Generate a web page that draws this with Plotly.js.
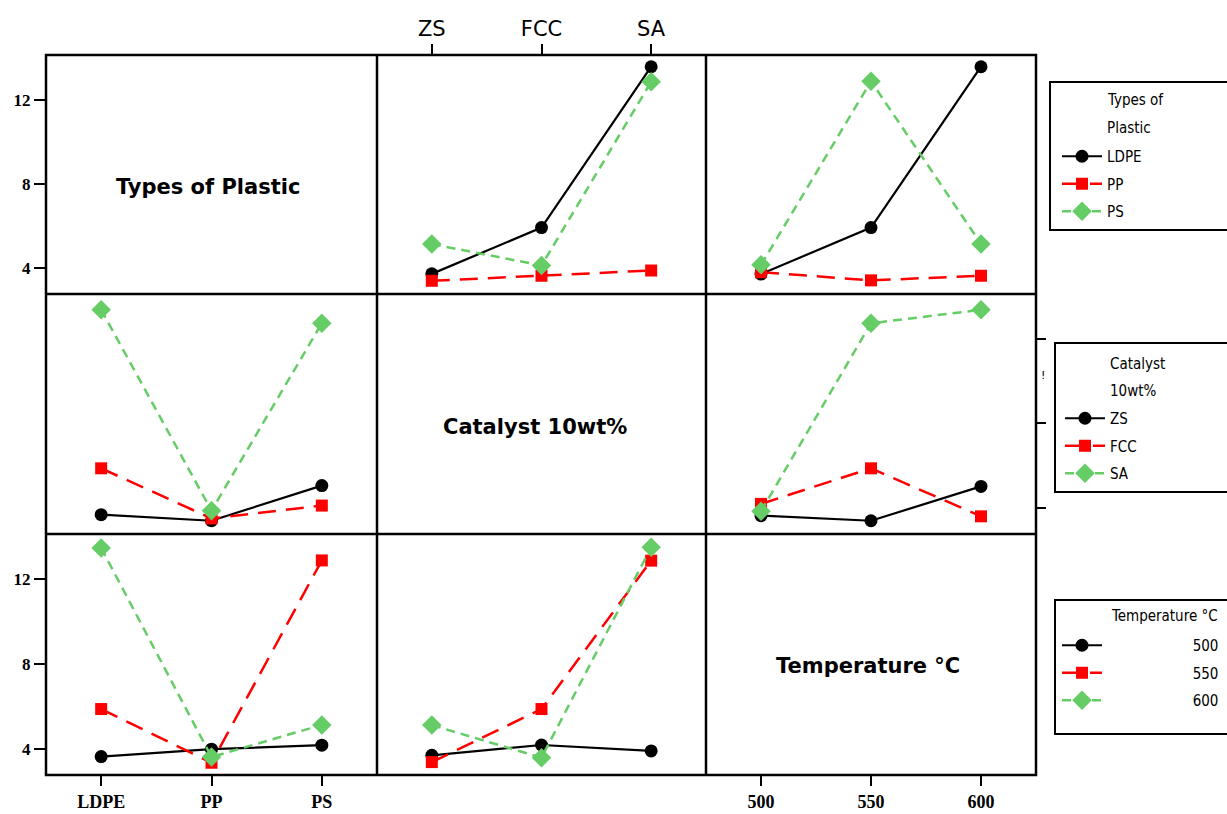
<!DOCTYPE html>
<html><head><meta charset="utf-8">
<script src="https://cdn.plot.ly/plotly-3.0.1.min.js"></script>
<style>html,body{margin:0;padding:0;background:#fff}</style>
</head><body><div id="chart" style="width:1227px;height:814px"></div>
<script>
// ---- categories / tick labels ----
const plastics = ['LDPE', 'PP', 'PS'];
const catalysts = ['ZS', 'FCC', 'SA'];
const temps = ['500', '550', '600'];
const yTicks = [4, 8, 12];

// ---- Row 1: series = Types of Plastic ----
const ldpeByCatalyst = [3.71, 5.92, 13.59];
const ppByCatalyst   = [3.38, 3.62, 3.87];
const psByCatalyst   = [5.13, 4.11, 12.87];
const ldpeByTemp = [3.70, 5.92, 13.59];
const ppByTemp   = [3.79, 3.40, 3.62];
const psByTemp   = [4.14, 12.90, 5.14];

// ---- Row 2: series = Catalyst 10wt% ----
const zsByPlastic  = [3.67, 3.38, 5.05];
const fccByPlastic = [5.87, 3.49, 4.10];
const saByPlastic  = [13.40, 3.86, 12.76];
const zsByTemp  = [3.62, 3.38, 5.01];
const fccByTemp = [4.18, 5.87, 3.59];
const saByTemp  = [3.83, 12.76, 13.40];

// ---- Row 3: series = Temperature °C ----
const t500ByPlastic = [3.62, 3.97, 4.16];
const t550ByPlastic = [5.87, 3.33, 12.90];
const t600ByPlastic = [13.49, 3.60, 5.12];
const t500ByCatalyst = [3.68, 4.17, 3.89];
const t550ByCatalyst = [3.36, 5.87, 12.89];
const t600ByCatalyst = [5.11, 3.57, 13.52];

const W = 1227, H = 814;
const PX = p => p / W;
const PY = p => 1 - p / H;

const styles = [
  {color: '#000000', dash: 'solid', symbol: 'circle', size: 13, width: 2.2},
  {color: '#ff0000', dash: '18px,10px', symbol: 'square', size: 12, width: 2.5},
  {color: '#66cc66', dash: '9px,6px', symbol: 'diamond', size: 15, width: 2.5}
];

const legendFamily = 'DejaVu Sans Condensed, Liberation Sans Narrow, sans-serif';
const legendFont = {family: legendFamily, size: 15, color: '#000'};
const nb = n => '\u00a0'.repeat(n);

const traces = [];
function addGroup(names, xs, ysList, xa, ya, legendId, show, prefix) {
  ysList.forEach((ys, i) => {
    const s = styles[i];
    traces.push({
      type: 'scatter', mode: 'lines+markers',
      x: xs, y: ys, xaxis: xa, yaxis: ya,
      name: (prefix || '') + names[i],
      legend: legendId, legendgroup: legendId + i, showlegend: show,
      line: {color: s.color, dash: s.dash, width: s.width},
      marker: {color: s.color, symbol: s.symbol, size: s.size},
      hoverinfo: 'x+y+name'
    });
  });
}
// empty traces so the three diagonal (label) panels get their axes
function addEmpty(xa, ya) {
  traces.push({type: 'scatter', mode: 'markers', x: [null], y: [null], xaxis: xa, yaxis: ya,
               showlegend: false, hoverinfo: 'skip'});
}

addEmpty('x', 'y');
addEmpty('x5', 'y5');
addEmpty('x9', 'y9');
addGroup(plastics, catalysts, [ldpeByCatalyst, ppByCatalyst, psByCatalyst], 'x2', 'y2', 'legend', true);
addGroup(plastics, temps, [ldpeByTemp, ppByTemp, psByTemp], 'x3', 'y3', 'legend', false);
addGroup(catalysts, plastics, [zsByPlastic, fccByPlastic, saByPlastic], 'x4', 'y4', 'legend2', true);
addGroup(catalysts, temps, [zsByTemp, fccByTemp, saByTemp], 'x6', 'y6', 'legend2', false);
addGroup(temps, plastics, [t500ByPlastic, t550ByPlastic, t600ByPlastic], 'x7', 'y7', 'legend3', true, nb(20));
addGroup(temps, catalysts, [t500ByCatalyst, t550ByCatalyst, t600ByCatalyst], 'x8', 'y8', 'legend3', false);

const colsPx = [[46, 377], [377, 706], [706, 1036]];
const rowsPx = [[55, 294], [294, 534], [534, 775]];
const yRange = [2.75, 14.15];
const xRange = [-0.5, 2.5];

function baseAxis() {
  return {showline: false, showgrid: false, zeroline: false, ticks: '', showticklabels: false, fixedrange: true};
}
function xAx(col, anchor, extra) {
  return Object.assign(baseAxis(), {domain: [PX(colsPx[col][0]), PX(colsPx[col][1])], anchor: anchor, range: xRange}, extra || {});
}
function yAx(row, anchor, extra) {
  return Object.assign(baseAxis(), {domain: [PY(rowsPx[row][1]), PY(rowsPx[row][0])], anchor: anchor, range: yRange, type: 'linear'}, extra || {});
}
const serifBold = {family: 'Liberation Serif, Times New Roman, serif', size: 18, color: '#000', weight: 'bold'};
const yTickStyle = {ticks: 'outside', ticklen: 11, tickwidth: 2, tickcolor: '#000', tickvals: yTicks,
                    showticklabels: true, tickfont: Object.assign({}, serifBold, {size: 17})};
const xBottomStyle = {ticks: 'outside', ticklen: 10, tickwidth: 2, tickcolor: '#000', showticklabels: true, tickfont: serifBold};

// panel frame lines (layout decoration)
const frame = {color: '#000', width: 2.5};
const shapes = [
  {type: 'rect', xref: 'paper', yref: 'paper', x0: PX(46), x1: PX(1036), y0: PY(775), y1: PY(55), line: frame},
  {type: 'line', xref: 'paper', yref: 'paper', x0: PX(377), x1: PX(377), y0: PY(775), y1: PY(55), line: frame},
  {type: 'line', xref: 'paper', yref: 'paper', x0: PX(706), x1: PX(706), y0: PY(775), y1: PY(55), line: frame},
  {type: 'line', xref: 'paper', yref: 'paper', x0: PX(46), x1: PX(1036), y0: PY(294), y1: PY(294), line: frame},
  {type: 'line', xref: 'paper', yref: 'paper', x0: PX(46), x1: PX(1036), y0: PY(534), y1: PY(534), line: frame},
  // legend boxes
  {type: 'rect', xref: 'paper', yref: 'paper', x0: PX(1050), x1: PX(1240), y0: PY(230), y1: PY(82), line: {color: '#000', width: 2}},
  {type: 'rect', xref: 'paper', yref: 'paper', x0: PX(1055), x1: PX(1240), y0: PY(492), y1: PY(343), line: {color: '#000', width: 2}},
  {type: 'rect', xref: 'paper', yref: 'paper', x0: PX(1055), x1: PX(1240), y0: PY(734), y1: PY(600), line: {color: '#000', width: 2}}
];

const panelFont = {family: 'DejaVu Sans, Verdana, sans-serif', size: 21, color: '#000', weight: 'bold'};
function note(text, x, y, font, xanchor) {
  return {text: text, xref: 'paper', yref: 'paper', x: PX(x), y: PY(y), showarrow: false,
          xanchor: xanchor || 'center', yanchor: 'middle', font: font};
}
const annotations = [
  note('Types of Plastic', 208, 187, panelFont),
  note('Catalyst 10wt%', 535, 427, panelFont),
  note('Temperature °C', 868, 666, panelFont),
  note('!', 1043, 375, {family: 'DejaVu Sans', size: 11, color: '#000'}),
  // legend titles
  note('Types of', 1105, 100, legendFont, 'left'),
  note('Plastic', 1105, 128, legendFont, 'left'),
  note('Catalyst', 1108, 364, legendFont, 'left'),
  note('10wt%', 1108, 391, legendFont, 'left'),
  note('Temperature °C', 1220, 616, legendFont, 'right')
];

function legendAt(x, y) {
  return {x: PX(x), xanchor: 'left', y: PY(y), yanchor: 'top', bgcolor: 'rgba(0,0,0,0)', borderwidth: 0,
          font: legendFont, itemwidth: 40, tracegroupgap: 5};
}

const layout = {
  width: W, height: H,
  margin: {l: 0, r: 0, t: 0, b: 0, autoexpand: false},
  paper_bgcolor: '#fff', plot_bgcolor: 'rgba(0,0,0,0)',
  hovermode: 'closest',
  // row 1
  xaxis:  xAx(0, 'y', {type: 'linear'}),
  yaxis:  yAx(0, 'x', yTickStyle),
  xaxis2: xAx(1, 'y2', {type: 'category', categoryarray: catalysts, side: 'top', ticks: 'outside', ticklen: 10, tickwidth: 2,
                         tickcolor: '#000', showticklabels: true, tickfont: {family: 'DejaVu Sans, Verdana, sans-serif', size: 21, color: '#000'}}),
  yaxis2: yAx(0, 'x2'),
  xaxis3: xAx(2, 'y3', {type: 'category', categoryarray: temps}),
  yaxis3: yAx(0, 'x3'),
  // row 2
  xaxis4: xAx(0, 'y4', {type: 'category', categoryarray: plastics}),
  yaxis4: yAx(1, 'x4'),
  xaxis5: xAx(1, 'y5', {type: 'linear'}),
  yaxis5: yAx(1, 'x5'),
  xaxis6: xAx(2, 'y6', {type: 'category', categoryarray: temps}),
  yaxis6: yAx(1, 'x6', {side: 'right', ticks: 'outside', ticklen: 9, tickwidth: 2, tickcolor: '#000', tickvals: yTicks, showticklabels: false}),
  // row 3
  xaxis7: xAx(0, 'y7', Object.assign({type: 'category', categoryarray: plastics}, xBottomStyle)),
  yaxis7: yAx(2, 'x7', yTickStyle),
  xaxis8: xAx(1, 'y8', {type: 'category', categoryarray: catalysts}),
  yaxis8: yAx(2, 'x8'),
  xaxis9: xAx(2, 'y9', Object.assign({type: 'linear', tickvals: [0, 1, 2], ticktext: temps}, xBottomStyle)),
  yaxis9: yAx(2, 'x9'),
  legend: legendAt(1057, 140),
  legend2: legendAt(1060, 402),
  legend3: legendAt(1057, 629),
  shapes: shapes,
  annotations: annotations
};

Plotly.newPlot('chart', traces, layout, {displayModeBar: false});
</script>
</body></html>
